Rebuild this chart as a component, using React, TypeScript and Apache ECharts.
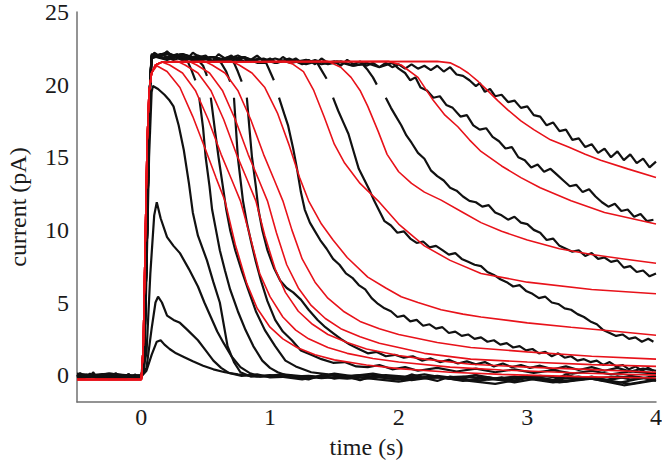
import React, { useEffect, useRef } from 'react';
import * as echarts from 'echarts';

const xTicks = [0, 1, 2, 3, 4];
const yTicks = [0, 5, 10, 15, 20, 25];

const G = '-';

// black recorded traces
const trace1 = [[-0.5,-0.05],[-0.45,-0.25],[-0.4,0.1],[-0.35,-0.2],[-0.3,0.05],[-0.25,-0.3],[-0.2,0.1],[-0.15,-0.15],[-0.1,0.05],[-0.05,-0.25],[0,-0.1],[0.04,0.3],[0.08,1.4],[0.12,2.3],[0.15,2.4],[0.18,2.1],[0.22,1.8],[0.27,1.5],[0.33,1.25],[0.4,0.95],[0.48,0.65],[0.56,0.4],[0.65,0.2],[0.75,0.05],[0.9,-0.1],[1.05,-0.05],[1.2,-0.15],[1.3,-0.3],[1.4,0.0],[1.5,-0.25],[1.6,-0.1],[1.7,-0.35],[1.8,-0.05],[1.9,-0.2],[2.0,-0.3],[2.1,0.05],[2.2,-0.2],[2.3,-0.4],[2.4,-0.1],[2.5,-0.25],[2.6,0.0],[2.7,-0.3],[2.8,-0.15],[2.9,-0.45],[3.0,-0.1],[3.1,-0.2],[3.2,-0.35],[3.3,0.05],[3.4,-0.25],[3.5,-0.15],[3.6,-0.4],[3.7,-0.1],[3.8,-0.3],[3.9,-0.2],[4.0,-0.05]];
const trace2 = [[-0.5,0.0],[-0.25,-0.1],[0,-0.05],[0.04,0.5],[0.08,3.2],[0.11,5.0],[0.13,5.4],[0.16,5.0],[0.2,4.1],[0.25,3.8],[0.3,3.6],[0.36,3.1],[0.44,2.4],[0.5,1.7],[0.56,1.0],[0.62,0.5],[0.68,0.15],[0.78,-0.05],[0.9,0.05],[1.0,-0.15],[1.3,-0.05],[1.6,-0.25],[1.9,0.0],[2.2,-0.2],[2.5,-0.1],[2.8,-0.35],[3.1,-0.05],[3.4,-0.3],[3.7,-0.1],[4.0,-0.25]];
const trace3 = [[-0.5,-0.05],[-0.25,0.05],[0,-0.1],[0.04,1.5],[0.07,7.0],[0.1,11.0],[0.12,11.9],[0.15,10.8],[0.2,9.5],[0.25,8.9],[0.3,8.4],[0.37,7.3],[0.44,6.1],[0.49,5.0],[0.54,4.0],[0.59,3.0],[0.64,2.2],[0.7,1.3],[0.77,0.55],[0.84,0.15],[0.92,-0.1],[1.1,0.05],[1.4,-0.2],[1.7,0.0],[2.0,-0.3],[2.3,-0.05],[2.6,-0.4],[2.9,-0.1],[3.2,-0.5],[3.5,-0.2],[3.8,-0.6],[4.0,-0.3]];
const trace4 = [[-0.5,-0.1],[-0.25,0.0],[0,-0.15],[0.03,3.0],[0.06,15.0],[0.08,19.5],[0.09,19.9],[0.13,19.7],[0.18,19.3],[0.22,18.9],[0.25,18.5],[0.29,17.2],[0.33,15.5],[0.37,13.2],[0.4,11.2],[0.44,9.6],[0.51,7.9],[0.56,6.4],[0.61,5.0],[0.64,3.5],[0.67,2.0],[0.72,0.9],[0.77,0.2],[0.85,-0.1],[1.0,0.0],[1.25,-0.3],[1.5,0.1],[1.75,-0.2],[2.0,-0.45],[2.25,-0.1],[2.5,-0.35],[2.75,-0.6],[3.0,-0.2],[3.25,-0.5],[3.5,-0.25],[3.75,-0.7],[4.0,-0.35]];
const trace5 = [[-0.5,-0.2],[-0.25,0.05],[0,-0.1],[0.02,0.5],[0.045,10.0],[0.065,19.5],[0.08,22.0],[0.18,21.8],[0.28,22.1],[0.36,21.6],[0.39,21.0],[0.42,20.3],[0.435,G],[0.45,19.1],[0.48,17.0],[0.5,15.0],[0.53,13.0],[0.55,11.4],[0.58,10.0],[0.61,8.6],[0.65,7.2],[0.69,5.9],[0.75,4.4],[0.81,3.1],[0.87,2.0],[0.94,1.0],[1.0,0.5],[1.06,0.2],[1.12,0.0],[1.3,-0.2],[1.5,0.05],[1.7,-0.3],[1.9,-0.05],[2.1,-0.35],[2.3,-0.1],[2.5,-0.4],[2.7,-0.15],[2.9,-0.5],[3.1,-0.2],[3.3,-0.45],[3.5,-0.1],[3.7,-0.55],[3.9,-0.2],[4.0,-0.4]];
const trace6 = [[-0.5,0.05],[-0.25,-0.2],[0,-0.05],[0.02,0.5],[0.045,10.0],[0.065,19.5],[0.08,21.9],[0.2,22.2],[0.32,21.8],[0.44,21.7],[0.48,21.3],[0.51,20.6],[0.525,G],[0.54,19.1],[0.57,17.0],[0.6,15.0],[0.63,13.2],[0.66,11.4],[0.69,10.0],[0.73,8.6],[0.78,7.2],[0.83,5.9],[0.89,4.4],[0.96,3.1],[1.04,2.0],[1.12,1.0],[1.2,0.6],[1.32,0.2],[1.45,0.05],[1.6,-0.1],[1.8,0.1],[2.0,-0.2],[2.2,0.05],[2.4,-0.25],[2.6,0.0],[2.8,-0.3],[3.0,-0.05],[3.2,-0.35],[3.4,-0.1],[3.6,-0.4],[3.8,-0.05],[4.0,-0.3]];
const trace7 = [[-0.5,-0.1],[-0.25,0.1],[0,-0.1],[0.02,0.5],[0.045,10.0],[0.065,19.5],[0.08,22.0],[0.2,21.7],[0.32,22.1],[0.44,21.8],[0.56,21.9],[0.62,21.5],[0.66,20.9],[0.69,20.2],[0.705,G],[0.72,19.1],[0.75,15.0],[0.79,12.0],[0.82,10.5],[0.85,9.3],[0.89,7.8],[0.93,6.5],[0.98,5.1],[1.04,3.8],[1.1,3.0],[1.17,2.4],[1.24,1.7],[1.32,1.4],[1.4,1.1],[1.49,0.85],[1.58,0.9],[1.67,0.6],[1.76,0.55],[1.85,0.7],[1.95,0.4],[2.05,0.55],[2.15,0.3],[2.3,0.5],[2.45,0.25],[2.6,0.45],[2.75,0.2],[2.9,0.4],[3.05,0.15],[3.2,0.35],[3.35,0.1],[3.5,0.3],[3.65,0.05],[3.8,0.25],[4.0,0.1]];
const trace8 = [[-0.5,0.1],[-0.25,-0.15],[0,0.0],[0.02,0.5],[0.045,10.0],[0.065,19.5],[0.08,21.8],[0.2,22.2],[0.32,21.7],[0.44,21.9],[0.56,21.6],[0.68,21.8],[0.72,21.5],[0.75,20.9],[0.78,20.2],[0.8,G],[0.82,19.1],[0.84,17.0],[0.86,15.0],[0.89,13.0],[0.91,11.4],[0.94,10.0],[0.98,8.6],[1.03,7.4],[1.08,6.5],[1.13,6.0],[1.18,5.7],[1.24,5.2],[1.3,4.5],[1.37,3.8],[1.43,3.3],[1.49,2.9],[1.55,2.5],[1.62,2.1],[1.69,1.8],[1.76,1.5],[1.83,1.6],[1.9,1.3],[1.97,1.4],[2.04,1.2],[2.11,1.3],[2.18,1.0],[2.25,1.15],[2.32,0.9],[2.39,1.05],[2.46,0.8],[2.53,0.95],[2.6,0.75],[2.67,0.9],[2.74,0.6],[2.81,0.8],[2.88,0.55],[2.95,0.7],[3.02,0.5],[3.1,0.65],[3.2,0.4],[3.3,0.6],[3.4,0.35],[3.5,0.55],[3.6,0.3],[3.7,0.5],[3.8,0.25],[3.9,0.45],[4.0,0.3]];
const trace9 = [[-0.5,-0.15],[-0.25,0.05],[0,-0.2],[0.02,0.5],[0.045,10.0],[0.065,19.5],[0.08,22.1],[0.18,21.8],[0.3,22.0],[0.42,21.6],[0.54,21.9],[0.66,21.7],[0.78,21.9],[0.9,21.5],[0.97,21.5],[1.0,20.9],[1.03,20.3],[1.05,G],[1.07,19.1],[1.11,18.0],[1.14,17.2],[1.18,15.6],[1.21,14.2],[1.24,12.6],[1.27,11.4],[1.31,10.5],[1.35,9.9],[1.39,9.3],[1.44,8.7],[1.49,8.0],[1.54,7.6],[1.59,7.0],[1.64,6.7],[1.69,6.2],[1.74,5.9],[1.79,5.3],[1.84,4.9],[1.89,4.6],[1.94,4.4],[1.99,4.0],[2.04,4.1],[2.09,3.7],[2.14,3.8],[2.19,3.4],[2.24,3.5],[2.29,3.2],[2.34,3.3],[2.39,2.9],[2.44,3.0],[2.49,2.7],[2.54,2.8],[2.59,2.5],[2.64,2.6],[2.69,2.3],[2.74,2.4],[2.79,2.1],[2.84,2.2],[2.89,1.9],[2.94,2.0],[2.99,1.7],[3.04,1.8],[3.09,1.5],[3.14,1.6],[3.19,1.3],[3.24,1.5],[3.29,1.2],[3.34,1.3],[3.39,1.0],[3.44,1.1],[3.49,0.9],[3.54,1.0],[3.59,0.7],[3.64,0.9],[3.69,0.6],[3.74,0.7],[3.79,0.4],[3.84,0.6],[3.89,0.3],[3.94,0.5],[3.98,0.3]];
const trace10 = [[-0.5,0.0],[-0.25,-0.25],[0,-0.1],[0.02,0.5],[0.045,10.0],[0.065,19.5],[0.08,21.9],[0.2,22.1],[0.32,21.7],[0.44,22.0],[0.56,21.6],[0.68,21.9],[0.8,21.6],[0.92,21.8],[1.04,21.5],[1.16,21.7],[1.28,21.4],[1.36,21.6],[1.4,21.0],[1.44,20.4],[1.47,G],[1.49,19.1],[1.53,18.2],[1.57,17.4],[1.61,16.6],[1.65,15.4],[1.69,14.2],[1.73,13.5],[1.77,12.8],[1.81,12.0],[1.85,11.3],[1.89,10.6],[1.94,10.3],[1.99,9.8],[2.04,9.9],[2.09,9.4],[2.14,9.1],[2.19,9.2],[2.24,8.8],[2.29,8.9],[2.34,8.6],[2.39,8.3],[2.44,8.4],[2.49,8.0],[2.54,7.8],[2.59,7.6],[2.64,7.5],[2.69,7.1],[2.74,6.9],[2.79,6.6],[2.84,6.4],[2.89,6.1],[2.94,6.2],[2.99,5.8],[3.04,5.6],[3.09,5.3],[3.14,5.4],[3.19,5.0],[3.24,4.9],[3.29,4.6],[3.34,4.5],[3.39,4.2],[3.44,4.0],[3.49,3.7],[3.54,3.5],[3.59,3.1],[3.64,2.9],[3.69,2.7],[3.74,2.8],[3.79,2.5],[3.84,2.6],[3.89,2.3],[3.94,2.5],[3.98,2.3]];
const trace11 = [[-0.5,-0.2],[-0.25,0.1],[0,-0.15],[0.02,0.5],[0.045,10.0],[0.065,19.5],[0.08,22.0],[0.2,21.8],[0.32,22.1],[0.44,21.7],[0.56,21.9],[0.68,21.6],[0.8,21.9],[0.92,21.5],[1.04,21.8],[1.16,21.5],[1.28,21.7],[1.4,21.4],[1.52,21.6],[1.64,21.3],[1.72,21.4],[1.76,21.0],[1.8,20.5],[1.83,20.0],[1.86,G],[1.9,19.1],[1.94,18.4],[1.98,17.8],[2.02,17.2],[2.06,16.5],[2.1,16.0],[2.15,15.3],[2.2,14.9],[2.25,14.1],[2.3,13.7],[2.35,13.4],[2.4,12.9],[2.45,12.7],[2.5,12.3],[2.55,12.0],[2.6,11.9],[2.65,11.6],[2.7,11.7],[2.75,11.2],[2.8,11.0],[2.85,10.7],[2.9,10.9],[2.95,10.5],[3.0,10.4],[3.05,10.0],[3.1,9.8],[3.15,9.3],[3.2,9.4],[3.25,8.9],[3.3,8.7],[3.35,8.5],[3.4,8.6],[3.45,8.2],[3.5,8.4],[3.55,8.0],[3.6,8.1],[3.65,7.8],[3.7,7.9],[3.75,7.4],[3.8,7.5],[3.85,7.1],[3.9,7.2],[3.95,6.8],[4.0,7.0]];
const trace12 = [[-0.5,0.05],[-0.25,-0.1],[0,0.0],[0.02,0.5],[0.045,10.0],[0.065,19.5],[0.08,21.9],[0.15,22.1],[0.25,21.7],[0.35,22.0],[0.45,21.6],[0.55,21.9],[0.65,21.7],[0.75,22.0],[0.85,21.6],[0.95,21.8],[1.05,21.5],[1.15,21.8],[1.25,21.4],[1.35,21.7],[1.45,21.4],[1.55,21.6],[1.65,21.3],[1.75,21.5],[1.85,21.2],[1.95,21.5],[2.0,21.1],[2.05,20.8],[2.09,20.3],[2.13,20.5],[2.17,19.8],[2.22,19.6],[2.27,19.1],[2.32,19.2],[2.37,18.6],[2.42,18.4],[2.48,17.8],[2.53,17.9],[2.58,17.2],[2.63,16.9],[2.68,17.0],[2.73,16.4],[2.78,16.1],[2.83,15.6],[2.88,15.7],[2.93,15.0],[2.98,14.8],[3.03,14.3],[3.08,14.5],[3.13,14.0],[3.18,14.2],[3.23,13.8],[3.28,13.4],[3.33,13.0],[3.38,13.1],[3.43,12.6],[3.48,12.8],[3.53,12.3],[3.58,11.9],[3.63,11.6],[3.68,11.8],[3.73,11.3],[3.78,11.4],[3.83,10.9],[3.88,11.1],[3.93,10.6],[3.98,10.7]];
const trace13 = [[-0.5,-0.1],[-0.475,0.15],[-0.45,-0.2],[-0.425,0.05],[-0.4,-0.15],[-0.375,0.2],[-0.35,-0.1],[-0.325,-0.3],[-0.3,0.1],[-0.275,-0.15],[-0.25,0.05],[-0.225,-0.25],[-0.2,0.15],[-0.175,-0.1],[-0.15,0.0],[-0.125,-0.3],[-0.1,0.1],[-0.075,-0.2],[-0.05,0.05],[-0.025,-0.15],[0,-0.05],[0.02,0.5],[0.045,10.0],[0.065,19.5],[0.08,21.8],[0.1,22.2],[0.15,21.9],[0.2,22.3],[0.25,21.8],[0.3,22.1],[0.35,21.7],[0.4,22.2],[0.45,21.9],[0.5,22.0],[0.55,21.6],[0.6,22.1],[0.65,21.8],[0.7,22.0],[0.75,21.6],[0.8,21.9],[0.85,21.7],[0.9,22.0],[0.95,21.6],[1.0,21.8],[1.05,21.5],[1.1,21.9],[1.15,21.6],[1.2,21.8],[1.25,21.5],[1.3,21.7],[1.35,21.4],[1.4,21.8],[1.45,21.5],[1.5,21.6],[1.55,21.3],[1.6,21.7],[1.65,21.4],[1.7,21.6],[1.75,21.3],[1.8,21.5],[1.85,21.2],[1.9,21.5],[1.95,21.2],[2.0,21.4],[2.05,21.1],[2.1,21.4],[2.15,21.1],[2.2,21.3],[2.25,21.0],[2.3,21.3],[2.35,20.9],[2.4,21.2],[2.45,20.7],[2.5,20.6],[2.55,20.3],[2.6,19.9],[2.63,20.1],[2.67,19.5],[2.71,19.7],[2.75,19.2],[2.8,19.3],[2.85,18.8],[2.9,18.9],[2.95,18.4],[3.0,18.5],[3.05,17.9],[3.1,17.8],[3.15,17.2],[3.2,17.4],[3.25,16.8],[3.3,16.9],[3.35,16.2],[3.4,16.3],[3.45,15.7],[3.5,15.9],[3.55,15.3],[3.6,15.6],[3.65,15.0],[3.7,15.4],[3.75,14.8],[3.8,15.2],[3.85,14.6],[3.9,14.9],[3.95,14.3],[4.0,14.7]];

// red model fits
const fit1 = [[-0.5,-0.3],[0,-0.3],[0.015,2],[0.03,9],[0.045,16],[0.06,19.5],[0.08,20.8],[0.11,21.35],[0.16,21.55],[2.3,21.6],[2.4,21.5],[2.47,21.2],[2.54,20.8],[2.62,20.2],[2.69,19.6],[2.77,18.9],[2.85,18.25],[2.95,17.5],[3.05,16.9],[3.18,16.2],[3.32,15.7],[3.45,15.2],[3.57,14.8],[3.78,14.2],[4.0,13.6]];
const fit2 = [[-0.5,-0.3],[0,-0.3],[0.015,2],[0.03,9],[0.045,16],[0.06,19.5],[0.08,20.8],[0.11,21.35],[0.16,21.55],[1.92,21.6],[2.02,21.35],[2.15,20.5],[2.27,18.9],[2.36,17.9],[2.46,17.1],[2.55,16.2],[2.64,15.4],[2.8,14.4],[2.95,13.6],[3.1,12.9],[3.34,12.0],[3.6,11.2],[3.8,10.8],[4.0,10.4]];
const fit3 = [[-0.5,-0.3],[0,-0.3],[0.015,2],[0.03,9],[0.045,16],[0.06,19.5],[0.08,20.8],[0.11,21.35],[0.16,21.55],[1.45,21.6],[1.55,21.2],[1.63,20.5],[1.7,19.6],[1.76,18.5],[1.84,16.8],[1.91,15.2],[2.0,14.0],[2.1,13.2],[2.2,12.6],[2.33,12.05],[2.5,11.2],[2.64,10.5],[2.8,9.9],[3.0,9.3],[3.25,8.7],[3.5,8.3],[3.75,8.0],[4.0,7.7]];
const fit4 = [[-0.5,-0.3],[0,-0.3],[0.015,2],[0.03,9],[0.045,16],[0.06,19.5],[0.08,20.8],[0.11,21.35],[0.16,21.55],[1.12,21.6],[1.18,21.4],[1.26,20.9],[1.34,19.6],[1.42,17.8],[1.5,15.9],[1.58,14.6],[1.7,13.2],[1.84,12.0],[2.0,10.4],[2.2,8.9],[2.4,7.9],[2.64,7.0],[3.0,6.4],[3.5,5.9],[4.0,5.6]];
const fit5 = [[-0.5,-0.3],[0,-0.3],[0.015,2],[0.03,9],[0.045,16],[0.06,19.5],[0.08,20.8],[0.11,21.35],[0.16,21.55],[0.7,21.6],[0.76,21.35],[0.86,20.8],[0.96,19.8],[1.06,18.0],[1.15,15.8],[1.23,13.6],[1.3,12.0],[1.4,10.4],[1.49,9.3],[1.6,8.1],[1.76,6.75],[1.9,6.0],[2.02,5.4],[2.15,5.0],[2.33,4.5],[2.5,4.2],[2.64,4.0],[3.0,3.6],[3.34,3.3],[3.7,3.0],[4.0,2.75]];
const fit6 = [[-0.5,-0.3],[0,-0.3],[0.015,2],[0.03,9],[0.045,16],[0.06,19.5],[0.08,20.8],[0.11,21.35],[0.16,21.55],[0.49,21.6],[0.55,21.35],[0.65,20.8],[0.75,19.6],[0.85,17.6],[0.95,15.2],[1.03,13.5],[1.1,12.0],[1.17,10.0],[1.25,8.0],[1.35,6.4],[1.45,5.3],[1.57,4.4],[1.7,3.7],[1.85,3.2],[2.0,2.8],[2.3,2.25],[2.56,1.9],[3.0,1.6],[3.5,1.3],[4.0,1.1]];
const fit7 = [[-0.5,-0.3],[0,-0.3],[0.015,2],[0.03,9],[0.045,16],[0.06,19.5],[0.08,20.8],[0.11,21.35],[0.16,21.55],[0.37,21.6],[0.43,21.35],[0.53,20.8],[0.63,19.6],[0.73,17.6],[0.83,15.2],[0.91,13.5],[0.98,12.0],[1.05,9.8],[1.13,7.6],[1.22,6.0],[1.32,4.8],[1.43,3.9],[1.55,3.2],[1.7,2.65],[1.85,2.2],[2.0,1.9],[2.2,1.5],[2.56,1.1],[3.0,0.9],[3.5,0.72],[4.0,0.6]];
const fit8 = [[-0.5,-0.3],[0,-0.3],[0.015,2],[0.03,9],[0.045,16],[0.06,19.5],[0.08,20.8],[0.11,21.35],[0.16,21.55],[0.28,21.6],[0.34,21.35],[0.44,20.8],[0.54,19.6],[0.64,17.6],[0.74,15.2],[0.82,13.5],[0.89,12.0],[0.96,9.6],[1.04,7.3],[1.12,5.7],[1.22,4.4],[1.33,3.5],[1.45,2.8],[1.6,2.25],[1.75,1.8],[2.0,1.35],[2.2,1.1],[2.56,0.75],[3.0,0.55],[3.5,0.38],[4.0,0.2]];
const fit9 = [[-0.5,-0.3],[0,-0.3],[0.015,2],[0.03,9],[0.045,16],[0.06,19.5],[0.08,20.8],[0.11,21.35],[0.16,21.55],[0.22,21.35],[0.32,20.8],[0.42,19.6],[0.52,17.6],[0.62,15.2],[0.7,13.5],[0.77,12.0],[0.85,9.4],[0.92,7.0],[1.0,5.4],[1.1,4.0],[1.2,3.1],[1.3,2.5],[1.45,1.9],[1.6,1.5],[1.8,1.15],[2.0,0.9],[2.4,0.55],[2.8,0.35],[3.4,0.15],[4.0,0.0]];
const fit10 = [[-0.5,-0.3],[0,-0.3],[0.015,2],[0.03,9],[0.045,16],[0.06,19.5],[0.08,20.8],[0.12,21.3],[0.2,20.9],[0.3,19.8],[0.4,17.8],[0.5,15.5],[0.58,13.6],[0.65,12.0],[0.73,9.0],[0.82,6.3],[0.9,4.6],[1.0,3.3],[1.1,2.5],[1.21,1.9],[1.35,1.4],[1.5,1.05],[1.75,0.7],[2.0,0.45],[2.4,0.2],[2.8,0.05],[3.4,-0.1],[4.0,-0.2]];

const traces = [trace1, trace2, trace3, trace4, trace5, trace6, trace7, trace8, trace9, trace10, trace11, trace12, trace13];
const fits = [fit1, fit2, fit3, fit4, fit5, fit6, fit7, fit8, fit9, fit10];

const FONT = 'Liberation Serif, Times New Roman, serif';

export default function App() {
  const ref = useRef<HTMLDivElement>(null);
  useEffect(() => {
    const chart = echarts.init(ref.current as HTMLDivElement, null, { renderer: 'svg' });
    const series: any[] = [];
    traces.forEach((d, i) => {
      series.push({
        type: 'line', name: 'trace' + (i + 1), data: d, symbol: 'none', showSymbol: false,
        connectNulls: false, silent: true, z: 2,
        lineStyle: { color: '#111111', width: 2.2 },
      });
    });
    fits.forEach((d, i) => {
      series.push({
        type: 'line', name: 'fit' + (i + 1), data: d, symbol: 'none', showSymbol: false,
        silent: true, z: 3,
        lineStyle: { color: '#e8121a', width: 1.6 },
      });
    });
    chart.setOption({
      animation: false,
      backgroundColor: '#ffffff',
      grid: { left: 77, right: 6, top: 12, bottom: 64, containLabel: false, outerBoundsMode: 'none' },
      xAxis: {
        type: 'value', min: -0.5, max: 4,
        name: 'time (s)', nameLocation: 'middle', nameGap: 33,
        nameTextStyle: { fontFamily: FONT, fontSize: 24, color: '#1a1a1a' },
        axisLine: { show: true, onZero: false, lineStyle: { color: '#707070', width: 1.5 } },
        axisTick: { show: false },
        splitLine: { show: false },
        axisLabel: { customValues: xTicks, fontFamily: FONT, fontSize: 24, color: '#1a1a1a', margin: 3 },
      },
      yAxis: {
        type: 'value', min: -1.85, max: 25,
        name: 'current (pA)', nameLocation: 'middle', nameGap: 47, nameRotate: 90,
        nameTextStyle: { fontFamily: FONT, fontSize: 24, color: '#1a1a1a' },
        axisLine: { show: true, onZero: false, lineStyle: { color: '#707070', width: 1.5 } },
        axisTick: { show: false },
        splitLine: { show: false },
        axisLabel: { customValues: yTicks, fontFamily: FONT, fontSize: 24, color: '#1a1a1a', margin: 8 },
      },
      series,
    });
    return () => chart.dispose();
  }, []);
  return <div ref={ref} style={{ position: 'fixed', left: 0, top: 0, width: 662, height: 466, background: '#fff' }} />;
}
